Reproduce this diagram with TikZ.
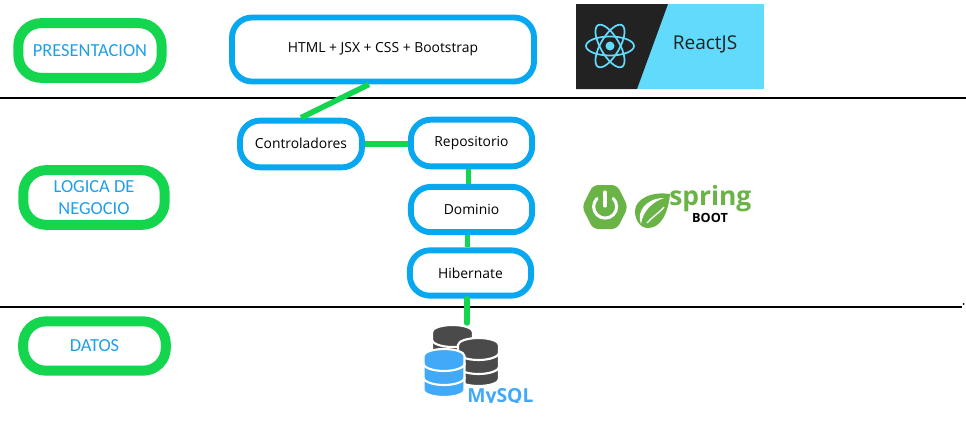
\documentclass[tikz,border=0pt]{standalone}
\usepackage{fontspec}
\setmainfont{Open Sans}
\newfontfamily\calibrifont{Carlito}
\definecolor{boxgreen}{RGB}{20,214,78}
\definecolor{boxblue}{RGB}{8,168,240}
\definecolor{labelblue}{RGB}{30,160,230}
\definecolor{reactdark}{RGB}{34,34,34}
\definecolor{reactblue}{RGB}{97,218,251}
\definecolor{springgreen}{RGB}{106,179,70}
\definecolor{dbdark}{RGB}{74,74,74}
\definecolor{dbblue}{RGB}{64,170,248}
\tikzset{
  layerbox/.style={draw=boxgreen,line width=7.5pt,rounded corners=17pt,fill=white,align=center,
    text=labelblue,font=\calibrifont\fontsize{13.8}{16.5}\selectfont,inner sep=0pt},
  appbox/.style={draw=boxblue,line width=4.4pt,rounded corners=15pt,fill=white,align=center,
    text=black,font=\fontsize{10.4}{12}\selectfont,inner sep=0pt},
  sepline/.style={draw=black,line width=2pt},
  link/.style={draw=boxgreen,line width=4.2pt},
  pics/dbstack/.style={code={
    \path[fill=#1,draw=white,line width=1.6pt] (-20.5,0) -- (-20.5,34) arc[start angle=180,end angle=0,x radius=20.5,y radius=7] -- (20.5,0) arc[start angle=0,end angle=-180,x radius=20.5,y radius=7] -- cycle;
    \foreach \t in {7,21}
      \draw[white,line width=1.6pt] (-21,\t) arc[start angle=180,end angle=0,x radius=21,y radius=8];
  }}
}
\begin{document}
\begin{tikzpicture}[x=0.75pt,y=0.75pt,yscale=-1,xscale=1]
\useasboundingbox (0,0) rectangle (966,425);

%Separators
\coordinate (sepa) at (0,98);
\coordinate (sepb) at (966,98);
\coordinate (sepc) at (0,307);
\coordinate (sepd) at (962,307);
\draw[sepline] (sepa) -- (sepb);
\draw[sepline,line width=1.6pt] (sepc) -- (sepd);
\fill (963.5,304) circle (1);

%Boxes and links
\node[appbox,minimum width=226.5pt,minimum height=48pt] (html) at (383,49.5) {HTML + JSX + CSS + Bootstrap};
\node[appbox,minimum width=91.5pt,minimum height=35pt] (controladores) at (301,144) {\raisebox{1.5pt}{Controladores}};
\node[appbox,minimum width=91pt,minimum height=35pt] (repositorio) at (471.5,143) {Repositorio};
\node[appbox,minimum width=91pt,minimum height=34pt] (dominio) at (471.5,209.5) {Dominio};
\node[appbox,minimum width=91pt,minimum height=34pt] (hibernate) at (470.5,273) {Hibernate};
\coordinate (dbtop) at (467,323);
\draw[link] (controladores.north) -- (html.248);
\draw[link] (controladores.east) -- (controladores.east -| repositorio.west);
\draw[link] (repositorio.south -| 468.5,0) -- (468.5,0 |- dominio.north);
\draw[link] (dominio.south -| 467.5,0) -- (467.5,0 |- hibernate.north);
\draw[link,line cap=round] (hibernate.south -| dbtop) -- (dbtop);

%Layers
\node[layerbox,minimum width=107.5pt,minimum height=41pt] (presentacion) at (90,50.5) {PRESENTACION};
\node[layerbox,minimum width=106pt,minimum height=41pt] (logica) at (94,197.5) {LOGICA DE\\NEGOCIO};
\node[layerbox,minimum width=107pt,minimum height=37pt] (datos) at (94.5,346) {DATOS};

%React logo
\fill[reactblue] (576,4) rectangle (764,89);
\fill[reactdark] (576,4) -- (668,4) -- (637,89) -- (576,89) -- cycle;
\foreach \a in {0,60,120}
  \draw[reactblue,line width=1.3pt,rotate around={\a:(610,46)}] (610,46) ellipse[x radius=24,y radius=9.5];
\fill[reactblue] (610,46) circle (4.5);
\node[font=\fontsize{14.3}{16}\selectfont,text=reactdark,inner sep=0pt] (reactname) at (705,44) {ReactJS};

%Spring logo
\fill[springgreen,rounded corners=4pt] (582,207) -- (593,185) -- (617,185) -- (628,207) -- (617,229) -- (593,229) -- cycle;
\draw[white,line width=2.3pt,line cap=round] (597,198.5) arc[start angle=225,end angle=-45,radius=11.5];
\draw[white,line width=2.3pt,line cap=round] (605,192) -- (605,206);
\fill[springgreen] (670,194) .. controls (668,215) and (660,228) .. (648,228) .. controls (640,228) and (635,220) .. (635,211) .. controls (635,200) and (650,191) .. (670,194) -- cycle;
\fill[white] (641,224) .. controls (636,212) and (646,198) .. (664,198) .. controls (652,202) and (643,211) .. (641,224) -- cycle;
\draw[white,line width=1pt] (647,223) .. controls (652,217) and (658,214) .. (664,207);
\node[font=\bfseries\fontsize{19.8}{22}\selectfont,text=springgreen,inner sep=0pt,anchor=base west] (springname) at (669,205) {spring};
\node[font=\bfseries\fontsize{9.5}{11}\selectfont,inner sep=0pt] (bootname) at (710,218) {BOOT};

%Database
\pic[transform shape] at (452.5,332) {dbstack=dbdark};
\pic[transform shape] at (478.5,345) {dbstack=dbdark};
\pic[transform shape] at (444,356) {dbstack=dbblue};
\begin{scope}
\clip (460,380) rectangle (540,402);
\node[font=\bfseries\fontsize{14.5}{16}\selectfont,text=dbblue,inner sep=0pt,anchor=base west] (mysqlname) at (467,402) {MySQL};
\end{scope}
\end{tikzpicture}
\end{document}
